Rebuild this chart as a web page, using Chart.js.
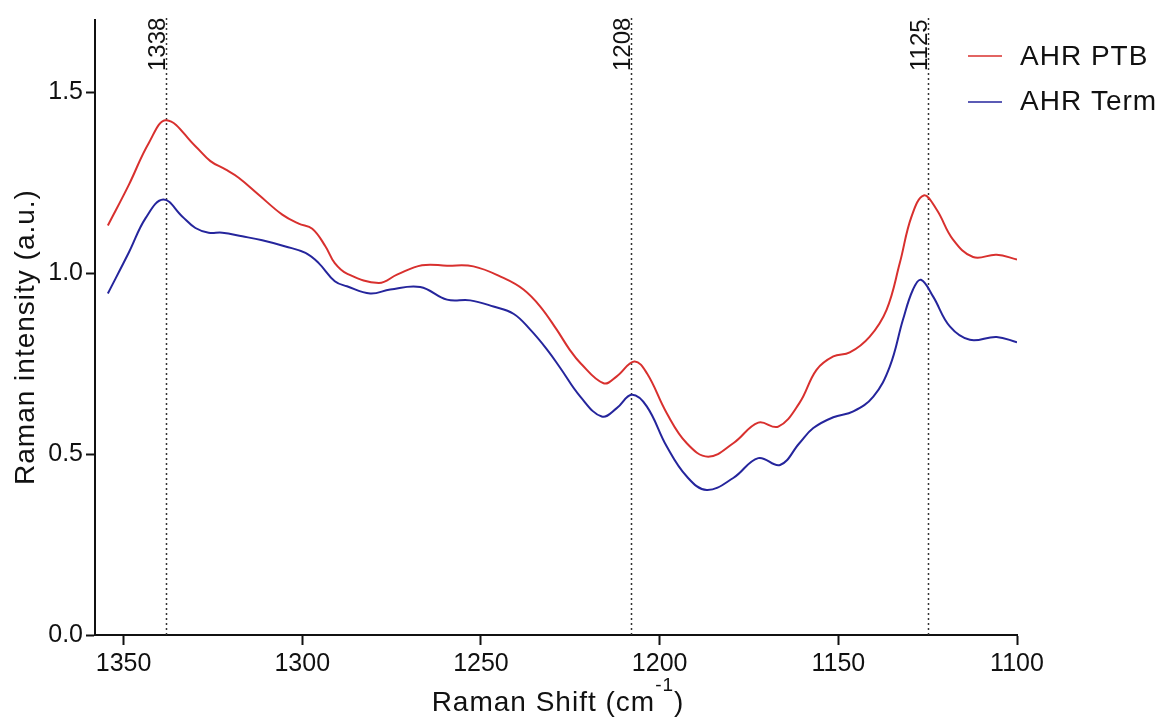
<!DOCTYPE html>
<html>
<head>
<meta charset="utf-8">
<title>Raman spectra</title>
<script src="https://cdn.jsdelivr.net/npm/chart.js@4.4.1/dist/chart.umd.min.js"></script>
<style>
  html, body { margin: 0; padding: 0; background: #fff; }
  canvas { display: block; }
</style>
</head>
<body>
<canvas id="raman-chart" width="1168" height="718"></canvas>
<script>
const FONT = '"Liberation Sans", Arial, Helvetica, sans-serif';

// AHR PTB spectrum
const ptbShift = [1354.4, 1348.5, 1342.9, 1338.0, 1329.9, 1325.7, 1321.5, 1317.8, 1312.2, 1305.6, 1301.0, 1297.2, 1293.5, 1290.9, 1287.5, 1278.6, 1273.5, 1266.5, 1259.5, 1252.1, 1243.7, 1238.1, 1233.4, 1228.8, 1225.2, 1222.2, 1215.7, 1212.0, 1207.1, 1203.6, 1198.0, 1192.4, 1186.4, 1179.4, 1172.4, 1166.8, 1160.9, 1156.1, 1151.4, 1146.8, 1141.2, 1136.5, 1132.8, 1129.5, 1126.1, 1122.5, 1117.9, 1112.3, 1105.7, 1100.0];
const ptbValues = [1.132, 1.245, 1.361, 1.423, 1.351, 1.310, 1.287, 1.264, 1.217, 1.162, 1.137, 1.123, 1.074, 1.028, 0.999, 0.973, 0.996, 1.022, 1.021, 1.019, 0.987, 0.955, 0.908, 0.844, 0.789, 0.752, 0.696, 0.715, 0.756, 0.724, 0.613, 0.530, 0.493, 0.530, 0.587, 0.576, 0.641, 0.733, 0.770, 0.781, 0.825, 0.899, 1.028, 1.157, 1.215, 1.176, 1.093, 1.045, 1.051, 1.038];

// AHR Term spectrum
const termShift = [1354.4, 1348.5, 1343.8, 1338.9, 1333.6, 1329.9, 1326.2, 1322.4, 1316.8, 1311.2, 1304.7, 1299.1, 1295.4, 1290.9, 1287.5, 1281.0, 1275.4, 1267.0, 1259.5, 1253.0, 1246.5, 1240.9, 1236.2, 1231.5, 1227.8, 1222.2, 1216.2, 1212.0, 1207.8, 1203.6, 1198.0, 1192.4, 1186.8, 1179.4, 1172.4, 1166.3, 1160.9, 1157.0, 1151.4, 1145.8, 1140.2, 1135.6, 1131.9, 1129.1, 1126.9, 1123.5, 1118.8, 1113.2, 1105.7, 1100.0];
const termValues = [0.944, 1.058, 1.153, 1.204, 1.157, 1.125, 1.112, 1.112, 1.102, 1.091, 1.074, 1.056, 1.028, 0.978, 0.964, 0.944, 0.955, 0.962, 0.927, 0.925, 0.908, 0.888, 0.844, 0.789, 0.738, 0.659, 0.604, 0.627, 0.664, 0.632, 0.521, 0.438, 0.401, 0.434, 0.489, 0.470, 0.530, 0.572, 0.602, 0.618, 0.659, 0.742, 0.872, 0.955, 0.982, 0.936, 0.853, 0.816, 0.824, 0.809];

// marked bands
const peakShifts = [1338, 1208, 1125];

const seriesLabels = ['AHR PTB', 'AHR Term'];
const seriesColors = ['#d8302e', '#25259c'];

const xTitle = 'Raman Shift (cm';
const xTitleSup = '-1';
const yTitle = 'Raman intensity (a.u.)';

function toPoints(xs, ys) {
  return xs.map((x, i) => ({ x: x, y: ys[i] }));
}

// dotted band markers with rotated numbers
const peakLines = {
  id: 'peakLines',
  beforeDatasetsDraw(chart) {
    const { ctx, chartArea, scales } = chart;
    ctx.save();
    peakShifts.forEach(p => {
      const x = Math.round(scales.x.getPixelForValue(p)) + 0.5;
      ctx.strokeStyle = '#333';
      ctx.lineWidth = 1.5;
      ctx.setLineDash([2, 3]);
      ctx.beginPath();
      ctx.moveTo(x, chartArea.top - 2);
      ctx.lineTo(x, chartArea.bottom);
      ctx.stroke();

      ctx.save();
      ctx.translate(x - 1.5, 71);
      ctx.rotate(-Math.PI / 2);
      ctx.fillStyle = '#111';
      ctx.font = '24px ' + FONT;
      ctx.textAlign = 'left';
      ctx.textBaseline = 'alphabetic';
      ctx.fillText(String(p), 0, 0);
      ctx.restore();
    });
    ctx.restore();
  }
};

// axis titles (x title has a superscript) and the legend
const decorations = {
  id: 'decorations',
  afterDraw(chart) {
    const { ctx, chartArea } = chart;
    ctx.save();
    ctx.fillStyle = '#111';
    ctx.textBaseline = 'alphabetic';

    // y title
    ctx.save();
    ctx.font = '28px ' + FONT;
    ctx.letterSpacing = '1px';
    ctx.translate(34, 337);
    ctx.rotate(-Math.PI / 2);
    ctx.textAlign = 'center';
    ctx.fillText(yTitle, 0, 0);
    ctx.restore();

    // x title
    ctx.save();
    ctx.letterSpacing = '1px';
    ctx.textAlign = 'left';
    ctx.font = '28px ' + FONT;
    const wMain = ctx.measureText(xTitle).width;
    const wEnd = ctx.measureText(')').width;
    ctx.font = '19px ' + FONT;
    const wSup = ctx.measureText(xTitleSup).width;
    const cx = (chartArea.left + chartArea.right) / 2 + 2;
    let x = cx - (wMain + wSup + wEnd) / 2;
    const base = 711;
    ctx.font = '28px ' + FONT;
    ctx.fillText(xTitle, x, base);
    x += wMain;
    ctx.font = '19px ' + FONT;
    ctx.fillText(xTitleSup, x, base - 20);
    x += wSup;
    ctx.font = '28px ' + FONT;
    ctx.fillText(')', x, base);
    ctx.restore();

    // legend
    const rows = [{ line: 56, text: 65 }, { line: 102, text: 110 }];
    chart.data.datasets.forEach((ds, i) => {
      ctx.strokeStyle = ds.borderColor;
      ctx.lineWidth = 1.5;
      ctx.beginPath();
      ctx.moveTo(968, rows[i].line);
      ctx.lineTo(1002, rows[i].line);
      ctx.stroke();
      ctx.font = '28px ' + FONT;
      ctx.letterSpacing = '1px';
      ctx.textAlign = 'left';
      ctx.fillText(ds.label, 1020, rows[i].text);
    });
    ctx.restore();
  }
};

function createRamanChart() {
  const ctx = document.getElementById('raman-chart').getContext('2d');

  new Chart(ctx, {
    type: 'line',
    data: {
      datasets: [
        {
          label: seriesLabels[0],
          data: toPoints(ptbShift, ptbValues),
          borderColor: seriesColors[0],
          borderWidth: 2,
          pointRadius: 0,
          fill: false,
          tension: 0.4
        },
        {
          label: seriesLabels[1],
          data: toPoints(termShift, termValues),
          borderColor: seriesColors[1],
          borderWidth: 2,
          pointRadius: 0,
          fill: false,
          tension: 0.4
        }
      ]
    },
    options: {
      responsive: false,
      animation: false,
      devicePixelRatio: 1,
      layout: {
        padding: { left: 0, right: 151, top: 20, bottom: 0 }
      },
      plugins: {
        legend: { display: false },
        tooltip: { enabled: false }
      },
      scales: {
        x: {
          type: 'linear',
          reverse: true,
          min: 1100,
          max: 1358,
          afterFit: s => { s.height = 83; },
          border: { display: true, color: '#111', width: 2 },
          grid: { drawOnChartArea: false, drawTicks: true, tickLength: 10, tickWidth: 2, tickColor: '#111' },
          ticks: {
            stepSize: 50,
            includeBounds: false,
            padding: 4,
            color: '#111',
            maxRotation: 0,
            font: { family: FONT, size: 25 },
            callback: v => String(v)
          }
        },
        y: {
          min: 0,
          max: 1.7,
          afterFit: s => { s.width = 95; },
          border: { display: true, color: '#111', width: 2 },
          grid: { drawOnChartArea: false, drawTicks: true, tickLength: 9, tickWidth: 2, tickColor: '#111' },
          ticks: {
            stepSize: 0.5,
            includeBounds: false,
            padding: 3,
            color: '#111',
            font: { family: FONT, size: 25 },
            callback: v => v.toFixed(1)
          }
        }
      }
    },
    plugins: [peakLines, decorations]
  });
}

document.addEventListener('DOMContentLoaded', function () {
  try {
    createRamanChart();
  } catch (error) {
    console.error(error);
  }
});
</script>
</body>
</html>
